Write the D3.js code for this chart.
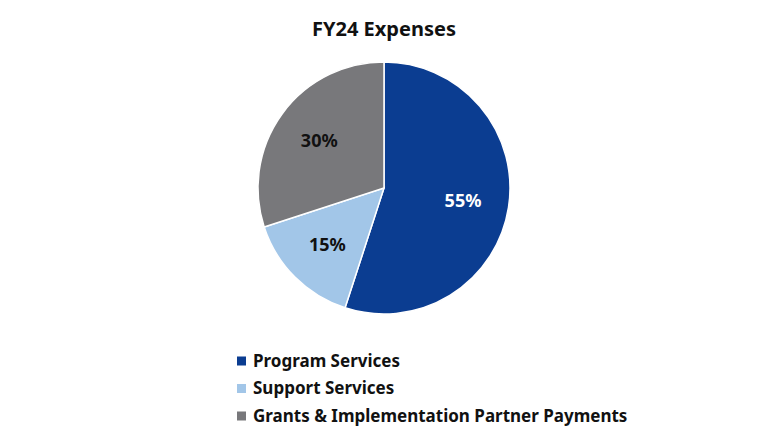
<!DOCTYPE html>
<html>
<head>
<meta charset="utf-8">
<script src="https://cdn.jsdelivr.net/npm/d3@7"></script>
<style>
  body { margin: 0; background: #fff; }
  text { font-family: "Noto Sans", "Open Sans", sans-serif; font-weight: bold; }
</style>
</head>
<body>
<div id="chart"></div>
<script>
// chart data
const categories = ["Program Services", "Support Services", "Grants & Implementation Partner Payments"];
const values = [55, 15, 30];
const colors = ["#0b3d91", "#a2c6e8", "#78787b"];
const labelColors = ["#ffffff", "#111111", "#111111"];
const title = "FY24 Expenses";

const width = 768, height = 432;
const cx = 384, cy = 188, radius = 126;

const svg = d3.select("#chart")
  .append("svg")
    .attr("width", width)
    .attr("height", height);

svg.append("text")
    .attr("x", cx)
    .attr("y", 36)
    .attr("text-anchor", "middle")
    .attr("font-size", 20)
    .attr("fill", "#111111")
    .text(title);

const data = categories.map((c, i) => ({cat: c, value: values[i], i: i}));

const pie = d3.pie()
    .sort(null)
    .value(d => d.value);

const arc = d3.arc()
    .innerRadius(0)
    .outerRadius(radius);

const labelArc = d3.arc()
    .innerRadius(80)
    .outerRadius(80);

const g = svg.append("g")
    .attr("transform", `translate(${cx},${cy})`);

const slices = pie(data);

g.selectAll("path")
  .data(slices)
  .join("path")
    .attr("d", arc)
    .attr("fill", d => colors[d.data.i])
    .attr("stroke", "#fff")
    .attr("stroke-width", 1.5);

g.selectAll("text")
  .data(slices)
  .join("text")
    .attr("transform", d => `translate(${labelArc.centroid(d)})`)
    .attr("text-anchor", "middle")
    .attr("dy", "0.35em")
    .attr("font-size", 18)
    .attr("fill", d => labelColors[d.data.i])
    .text(d => d.data.value + "%");

// legend
const legendY = d3.scalePoint()
    .domain(categories)
    .range([361, 416]);

const legend = svg.append("g")
  .selectAll("g")
  .data(categories)
  .join("g")
    .attr("transform", d => `translate(237,${legendY(d)})`);

legend.append("rect")
    .attr("x", 0)
    .attr("y", -4.5)
    .attr("width", 9)
    .attr("height", 9)
    .attr("fill", (d, i) => colors[i]);

legend.append("text")
    .attr("x", 16)
    .attr("dy", "0.35em")
    .attr("font-size", 17)
    .attr("fill", "#111111")
    .text(d => d);
</script>
</body>
</html>
